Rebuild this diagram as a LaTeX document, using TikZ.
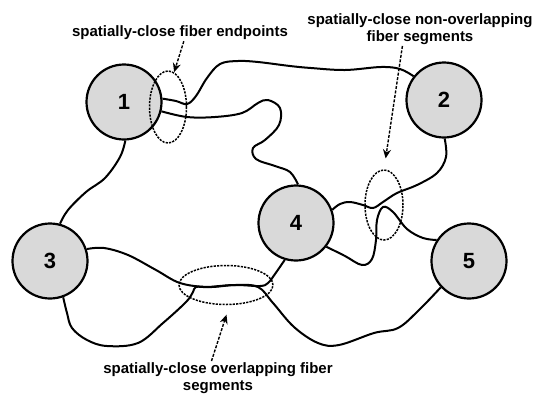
\documentclass[tikz,border=0pt]{standalone}
\usepackage{fontspec}
\setmainfont{Liberation Sans}
\usetikzlibrary{arrows.meta,shapes.geometric}

\tikzset{
  site/.style={circle, draw, line width=2.2pt, fill=black!15, minimum size=75pt,
    inner sep=0pt, font=\fontsize{22}{24}\selectfont\bfseries},
  fiber/.style={line width=2pt, smooth, tension=0.6},
  group/.style={ellipse, draw, line width=1.5pt, dash pattern=on 2.2pt off 1.2pt,
    inner sep=0pt},
  pointer/.style={-{Stealth[length=9pt,width=8pt]}, line width=1.4pt,
    dash pattern=on 3pt off 1.5pt},
  note/.style={font=\fontsize{15}{17.5}\selectfont\bfseries, align=center,
    inner sep=1pt}
}

\begin{document}
\begin{tikzpicture}[x=1pt,y=-1pt]
      \useasboundingbox (0,0) rectangle (540,394);
      \draw
        (124,102) node[site] (1){1}
        (444,100) node[site] (2){2}
        (50,261) node[site] (3){3}
        (296,223) node[site] (4){4}
        (469,261) node[site] (5){5};
      \begin{scope}[fiber]
        \draw plot coordinates {(1.5) (176,101) (187,104) (196,96) (207,78) (220,64) (238,61)
          (258,62) (290,66) (311,68) (345,70) (381,67) (400,69) (2.142)};
        \draw plot coordinates {(1.-14) (187,117) (215,117) (242,113) (258,103) (268,100)
          (280,108) (279,125) (265,140) (253,148) (256,159) (275,166) (290,172) (4.87)};
        \draw plot coordinates {(1.-88) (120,157) (105,178) (86,192) (68,210) (3.75)};
        \draw plot coordinates {(3.18) (104,248) (128,255) (156,270) (180,283) (208,287)
          (235,285) (260,286) (268,283) (275,274) (4.-107)};
        \draw plot coordinates {(3.-70) (67,313) (72,328) (87,340) (107,346) (138,343)
          (163,323) (186,302) (193,292) (196,287) (208,287) (235,285) (258,287) (273,303)
          (294,327) (318,343) (339,345) (374,333) (398,328) (419,310) (5.-137)};
        \draw plot coordinates {(2.-89) (446,157) (437,173) (417,185) (397,193) (383,202)
          (373,208) (363,205) (350,202) (340,204) (4.20)};
        \draw plot coordinates {(4.-38) (345,256) (362,265) (372,259) (376,240) (377,220)
          (383,207) (393,212) (407,229) (423,238) (5.147)};
      \end{scope}
      \node[group, minimum width=37pt, minimum height=72pt] (e1) at (168,107) {};
      \node[group, minimum width=38pt, minimum height=70pt] (e2) at (384,205) {};
      \node[group, minimum width=94pt, minimum height=39pt] (e3) at (226,285) {};
      \node[note] (t1) at (180,33) {spatially-close fiber endpoints};
      \node[note] (t2) at (420,29) {spatially-close non-overlapping\\fiber segments};
      \node[note] (t3) at (218,378) {spatially-close overlapping fiber\\segments};
      \draw[pointer] (t1.-65) -- (e1.80);
      \draw[pointer, shorten >=11pt] (t2.-136) -- (e2.north);
      \draw[pointer, shorten >=10pt] (t3.111) -- (e3.-80);
    \end{tikzpicture}
\end{document}
